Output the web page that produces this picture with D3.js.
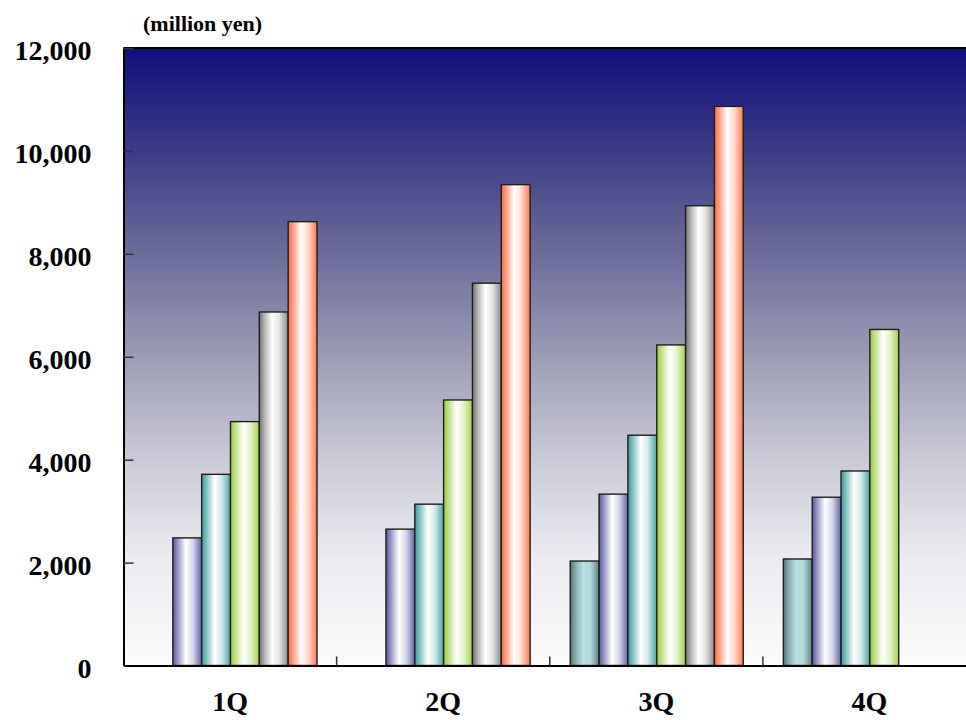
<!DOCTYPE html>
<html>
<head>
<meta charset="utf-8">
<script src="https://cdn.jsdelivr.net/npm/d3@7"></script>
<style>
  html, body { margin: 0; padding: 0; background: #ffffff; }
  svg { display: block; }
  text { font-family: "Liberation Serif", "Times New Roman", serif; font-weight: bold; fill: #000; }
</style>
</head>
<body>
<svg id="chart" width="966" height="720"></svg>
<script>
// ---- data ----
const categories = ["1Q", "2Q", "3Q", "4Q"];
const seriesNames = ["S1", "S2", "S3", "S4", "S5", "S6"];
const s1 = [null, null, 2030, 2070];
const s2 = [2480, 2650, 3330, 3270];
const s3 = [3715, 3135, 4475, 3780];
const s4 = [4740, 5160, 6230, 6530];
const s5 = [6870, 7430, 8935, null];
const s6 = [8625, 9345, 10865, null];
const yTicks = [0, 2000, 4000, 6000, 8000, 10000, 12000];
const unitLabel = "(million yen)";

const seriesValues = [s1, s2, s3, s4, s5, s6];
const seriesColors = [
  ["#587676", "#8fb5b7", "#b8e0e3", "#b0d9dc", "#5f8081"],
  ["#5656a2", "#a9a9d0", "#ffffff", "#d6d6ea", "#6262aa"],
  ["#3a9a9a", "#98cccc", "#ffffff", "#cfe8e8", "#4aa4a4"],
  ["#98cc3c", "#cbe69d", "#ffffff", "#e3f2c8", "#a2d24a"],
  ["#757575", "#c0c0c0", "#ffffff", "#e2e2e2", "#8a8a8a"],
  ["#ff673a", "#ffb39c", "#ffffff", "#ffd6c9", "#ff7a50"]
];

// ---- layout ----
(function () {
const svg = d3.select("#chart");
const mLeft = 123.5, mRight = 976, mTop = 48, mBottom = 665.5;

const defs = svg.append("defs");
const bg = defs.append("linearGradient").attr("id", "bg")
  .attr("x1", 0).attr("y1", 0).attr("x2", 0).attr("y2", 1);
[[0, "#0f0f7c"], [0.17, "#3d3d86"], [0.33, "#6b6b9b"], [0.5, "#9c9cb6"],
 [0.67, "#cbcbd8"], [0.83, "#ececf1"], [1, "#fbfbfb"]].forEach(([o, c]) =>
  bg.append("stop").attr("offset", o).attr("stop-color", c));

seriesColors.forEach((cols, i) => {
  const g = defs.append("linearGradient").attr("id", "g" + i)
    .attr("x1", 0).attr("y1", 0).attr("x2", 1).attr("y2", 0);
  [0, 0.22, 0.45, 0.7, 1].forEach((o, k) =>
    g.append("stop").attr("offset", o).attr("stop-color", cols[k]));
});

const x = d3.scaleBand().domain(categories).range([mLeft, mRight]).padding(0);
const xs = d3.scaleBand().domain(seriesNames).range([20.5, 193.5]).padding(0);
const y = d3.scaleLinear().domain([0, 12000]).range([mBottom, mTop]);

// background
svg.append("rect").attr("x", mLeft).attr("y", mTop)
  .attr("width", mRight - mLeft).attr("height", mBottom - mTop)
  .attr("fill", "url(#bg)");

// bars
const barData = [];
categories.forEach((c, ci) => {
  seriesValues.forEach((arr, si) => {
    if (arr[ci] != null) barData.push({ c, s: seriesNames[si], si, v: arr[ci] });
  });
});
svg.append("g").selectAll("rect").data(barData).join("rect")
  .attr("x", d => x(d.c) + xs(d.s))
  .attr("y", d => y(d.v))
  .attr("width", xs.bandwidth())
  .attr("height", d => y(0) - y(d.v))
  .attr("fill", d => "url(#g" + d.si + ")")
  .attr("stroke", "#1e1e1e")
  .attr("stroke-width", 1.4);

// top border
svg.append("line").attr("x1", mLeft).attr("x2", mRight)
  .attr("y1", mTop).attr("y2", mTop)
  .attr("stroke", "#000").attr("stroke-width", 2);

// y axis
const yAxis = d3.axisLeft(y).tickValues(yTicks).tickFormat(d3.format(","))
  .tickSizeInner(-10).tickSizeOuter(0).tickPadding(32);
const gy = svg.append("g").attr("transform", `translate(${mLeft},0)`).call(yAxis);
gy.select(".domain").attr("stroke", "#000").attr("stroke-width", 2);
gy.selectAll(".tick line").attr("stroke", "#333").attr("stroke-width", 1.5);
gy.selectAll(".tick text").attr("font-size", 28).attr("font-family", "'Liberation Serif', serif")
  .attr("font-weight", "bold").attr("fill", "#000").attr("dy", "0.42em");

// x axis
const xAxis = d3.axisBottom(x).tickSize(0).tickPadding(26);
const gx = svg.append("g").attr("transform", `translate(0,${mBottom})`).call(xAxis);
gx.select(".domain").attr("stroke", "#000").attr("stroke-width", 2);
gx.selectAll(".tick text").attr("font-size", 28).attr("font-family", "'Liberation Serif', serif")
  .attr("font-weight", "bold").attr("fill", "#000");
// category boundary ticks
svg.append("g").selectAll("line").data(categories.slice(1)).join("line")
  .attr("x1", d => x(d)).attr("x2", d => x(d))
  .attr("y1", mBottom - 9).attr("y2", mBottom)
  .attr("stroke", "#333").attr("stroke-width", 1.5);

// unit label
svg.append("text").attr("x", 143).attr("y", 31)
  .attr("font-size", 22).text(unitLabel);
})();
</script>
</body>
</html>
